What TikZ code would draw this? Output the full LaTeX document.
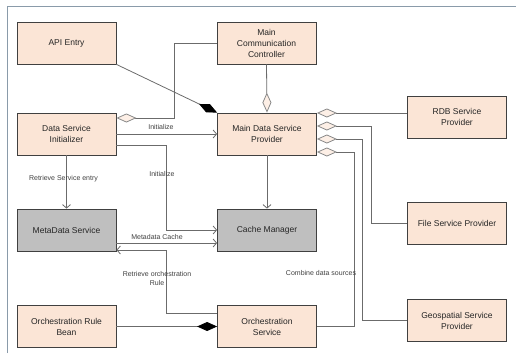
\documentclass[tikz,border=0pt]{standalone}
\usepackage{fontspec}
\setmainfont{Liberation Sans}
\usepackage{xcolor}
\usetikzlibrary{arrows.meta,calc,positioning}
\definecolor{peach}{HTML}{FBE5D6}
\definecolor{boxgray}{HTML}{BFBFBF}
\definecolor{linegray}{HTML}{6B6B6B}
\definecolor{framegray}{HTML}{8A9BAA}

\begin{document}
\begin{tikzpicture}[x=1pt,y=-1pt,
 every node/.style={font=\fontsize{8.5}{11}\selectfont,align=center,text=black!85},
 box/.style={draw=black!75,line width=0.8pt,fill=peach,minimum width=99pt,minimum height=42pt,inner sep=2pt},
 service/.style={box,fill=boxgray},
 lbl/.style={font=\fontsize{7}{9}\selectfont,text=black!75,inner sep=1pt},
 conn/.style={draw=linegray,line width=0.8pt},
 arrow/.style={conn,-{Straight Barb[length=3.5pt,width=8pt]}},
 agg/.style={conn,-{Diamond[length=20pt,width=9pt,fill=peach!60,color=linegray!80]}},
 comp/.style={conn,-{Diamond[length=20pt,width=9pt,fill=black,color=black]}}]
\useasboundingbox (0,0) rectangle (516,353);
\draw[framegray,line width=1pt] (7,353) -- (7,7) -- (516,7);
\node[box] (api) at (66.5,43) {API Entry};
\node[box] (mcc) at (266.5,43) {Main\\Communication\\Controller};
\node[box] (dsi) at (66.5,134) {Data Service\\Initializer};
\node[box] (mdsp) at (267,134) {Main Data Service\\Provider};
\node[box] (rdb) at (457,117) {RDB Service\\Provider};
\node[service] (meta) at (66.5,230) {MetaData Service};
\node[service] (cache) at (267,230) {Cache Manager};
\node[box] (file) at (457,223.5) {File Service Provider};
\node[box] (orb) at (66.5,326.5) {Orchestration Rule\\Bean};
\node[box] (orch) at (267,326.5) {Orchestration\\Service};
\node[box] (geo) at (457,320.5) {Geospatial Service\\Provider};
\coordinate (p1) at ([yshift=21pt]mdsp.east);
\coordinate (p2) at ([yshift=8pt]mdsp.east);
\coordinate (p3) at ([yshift=-5pt]mdsp.east);
\coordinate (p4) at ([yshift=-18pt]mdsp.east);
\draw[comp] (api.south east) -- (mdsp.north west);
\draw[agg] (mcc.west) -- ++(-42,0) |- ([yshift=16pt]dsi.east);
\draw[agg] (mcc.south) -- (mdsp.north);
\draw[arrow] (dsi.east) -- (mdsp.west);
\draw[arrow] ([yshift=-11pt]dsi.east) -- ++(50,0) |- (cache.west);
\draw[arrow] (dsi.south) -- (meta.north);
\draw[arrow] (mdsp.south) -- (cache.north);
\draw[arrow] ([yshift=-13pt]meta.east) -- ([yshift=-13pt]cache.west);
\draw[arrow] ([yshift=13.5pt]orch.west) -- ++(-51,0) |- ([yshift=-20pt]meta.east);
\draw[comp] (orb.east) -- (orch.west);
\draw[agg] (p1 -| rdb.west) -- (p1);
\draw[agg] (file.west) -- ++(-36,0) |- (p2);
\draw[agg] (geo.west) -- ++(-45,0) |- (p3);
\draw[agg] (orch.east) -- ++(37,0) |- (p4);
\node[lbl] (l1) at (161,127) {Initialize};
\node[lbl] (l2) at (162,174) {Initialize};
\node[lbl] (l3) at (63.5,179) {Retrieve Service entry};
\node[lbl] (l4) at (157,236.5) {Metadata Cache};
\node[lbl] (l5) at (157,278.5) {Retrieve orchestration\\Rule};
\node[lbl] (l6) at (321,273) {Combine data sources};
\end{tikzpicture}
\end{document}
